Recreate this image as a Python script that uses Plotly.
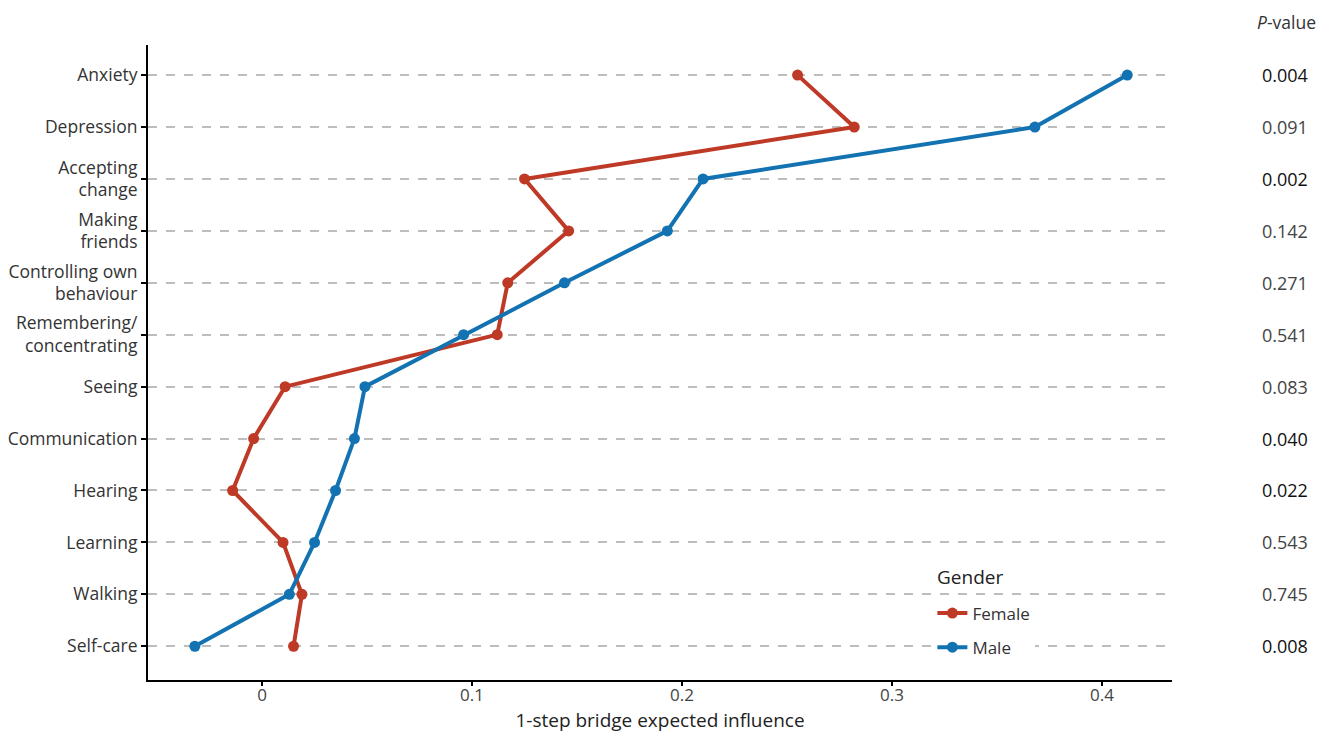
import plotly.graph_objects as go

categories = ["Anxiety", "Depression", "Accepting<br>change", "Making<br>friends",
              "Controlling own<br>behaviour", "Remembering/<br>concentrating", "Seeing",
              "Communication", "Hearing", "Learning", "Walking", "Self-care"]
female = [0.255, 0.282, 0.125, 0.146, 0.117, 0.112, 0.011, -0.004, -0.014, 0.010, 0.019, 0.015]
male = [0.412, 0.368, 0.210, 0.193, 0.144, 0.096, 0.049, 0.044, 0.035, 0.025, 0.013, -0.032]
p_values = ["0.004", "0.091", "0.002", "0.142", "0.271", "0.541", "0.083",
            "0.040", "0.022", "0.543", "0.745", "0.008"]
significant = [True, False, True, False, False, False, False, True, True, False, False, True]
x_ticks = [0, 0.1, 0.2, 0.3, 0.4]
x_tick_labels = ["0", "0.1", "0.2", "0.3", "0.4"]

RED = "#BE3A26"
BLUE = "#1372B1"
FONT = "Open Sans"

fig = go.Figure()
fig.add_trace(go.Scatter(x=female, y=categories, mode="lines+markers", name="Female",
                         legendgroup="f",
                         line=dict(color=RED, width=4), marker=dict(color=RED, size=11)))
fig.add_trace(go.Scatter(x=male, y=categories, mode="lines+markers", name="Male",
                         legendgroup="m",
                         line=dict(color=BLUE, width=4), marker=dict(color=BLUE, size=11)))

for cat, p, sig in zip(categories, p_values, significant):
    fig.add_annotation(x=1.1348, xref="paper", y=cat, yref="y", text=p, showarrow=False,
                       xanchor="right", yanchor="middle",
                       font=dict(family=FONT, size=18, color="#111" if sig else "#444"))
fig.add_annotation(x=1.1426, xref="paper", y=1.036, yref="paper", text="<i>P</i>-value",
                   showarrow=False, xanchor="right", yanchor="middle",
                   font=dict(family=FONT, size=17.5, color="#333"))
# legend title
fig.add_annotation(x=0.7686, xref="paper", y=0.162, yref="paper", text="Gender",
                   showarrow=False, xanchor="left", yanchor="middle", bgcolor="white",
                   font=dict(family=FONT, size=19, color="#222"))

fig.update_layout(
    width=1335, height=734,
    margin=dict(l=148, r=163, t=45, b=54),
    paper_bgcolor="white", plot_bgcolor="white",
    font=dict(family=FONT, size=17, color="#333"),
    legend=dict(x=0.766, y=0.133, xanchor="left", yanchor="top",
                bgcolor="white", font=dict(size=17, color="#333"),
                tracegroupgap=9, itemwidth=30),
    xaxis=dict(range=[-0.0543, 0.4333], tickvals=x_ticks, ticktext=x_tick_labels,
               automargin=False,
               showgrid=False, zeroline=False, showline=True, linecolor="black", linewidth=2,
               ticks="outside", ticklen=4, tickwidth=1.5, tickcolor="black",
               ticklabelstandoff=-5,
               title=dict(text="1-step bridge expected influence", font=dict(size=19, color="#222"),
                          standoff=8),
               tickfont=dict(size=17, color="#444")),
    yaxis=dict(categoryorder="array", categoryarray=categories,
               range=[len(categories) - 1 + 0.65, -0.58],
               automargin=False,
               showgrid=True, gridcolor="#BDBDBD", gridwidth=1.5, griddash="dash",
               zeroline=False, showline=True, linecolor="black", linewidth=2,
               ticks="outside", ticklen=5, tickwidth=1.5, tickcolor="black",
               tickfont=dict(size=17.5, color="#333")),
)

fig.write_html("out.html", config={"displayModeBar": False},
               post_script="document.body.style.margin='0';document.body.style.overflow='hidden';")
